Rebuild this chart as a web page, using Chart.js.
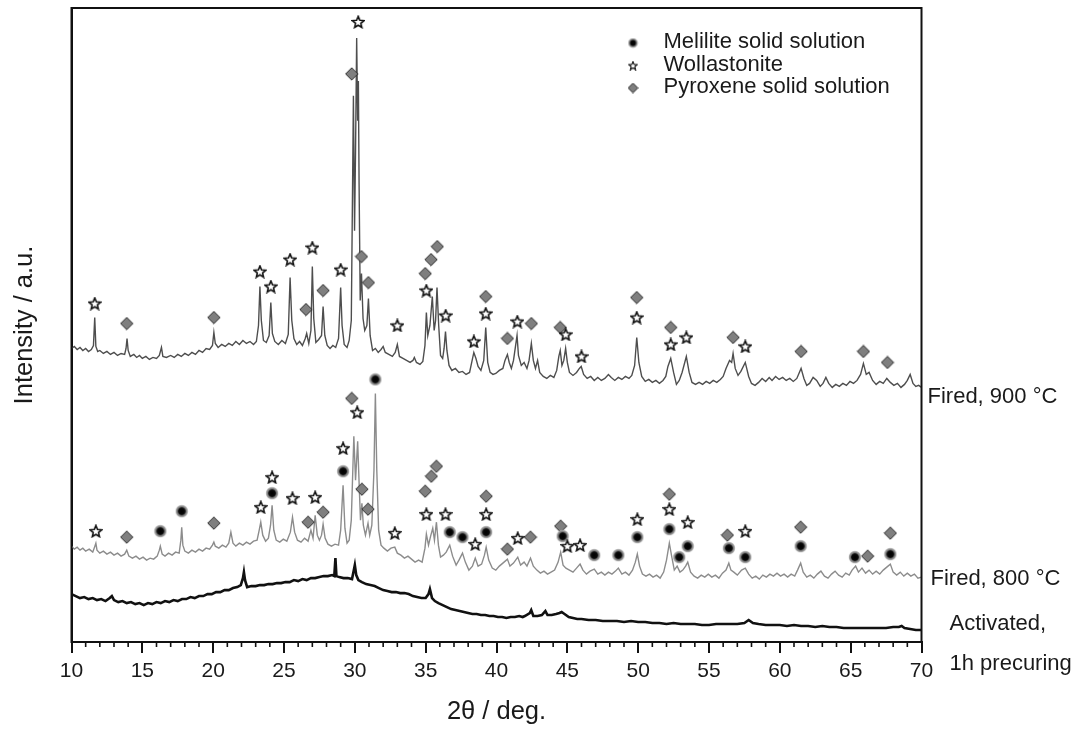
<!DOCTYPE html>
<html lang="en">
<head>
<meta charset="UTF-8" />
<title>XRD patterns - activated and fired samples</title>
<script src="https://cdn.jsdelivr.net/npm/chart.js@4.4.1/dist/chart.umd.min.js"></script>
<style>
  html, body { margin: 0; padding: 0; background: #fff; }
  #wrap { width: 1076px; height: 729px; position: relative; }
</style>
</head>
<body>
<div id="wrap"><canvas id="xrd"></canvas></div>
<script>
// [2theta (deg), intensity (a.u., curves already stacked)]
const fired900 = [
  [10.0,294],[10.2,296],[10.4,293],[10.6,295],[10.8,292],[11.0,294],[11.2,291],[11.4,293],[11.55,297],[11.64,325],
  [11.72,296],[11.85,291],[12.0,292],[12.25,289],[12.5,291],[12.75,288],[13.0,290],[13.25,287],[13.5,289],[13.75,288],
  [13.85,294],[13.92,304],[14.0,292],[14.15,286],[14.4,288],[14.6,285],[14.8,287],[15.0,284],[15.25,286],[15.5,283],
  [15.75,285],[16.0,284],[16.2,287],[16.35,295],[16.45,286],[16.7,285],[17.0,287],[17.25,285],[17.5,288],[17.75,286],
  [18.0,289],[18.25,287],[18.5,290],[18.75,288],[19.0,292],[19.25,290],[19.5,294],[19.75,293],[19.95,297],[20.05,310],
  [20.15,299],[20.35,295],[20.6,298],[20.85,296],[21.1,299],[21.35,297],[21.6,301],[21.85,298],[22.1,302],[22.35,299],
  [22.6,301],[22.85,298],[23.05,301],[23.2,317],[23.3,356],[23.4,322],[23.55,302],[23.75,300],[23.95,307],[24.07,340],
  [24.18,309],[24.35,301],[24.6,298],[24.85,302],[25.1,299],[25.3,308],[25.43,365],[25.55,322],[25.7,304],[25.9,298],
  [26.1,301],[26.3,297],[26.5,304],[26.6,309],[26.75,299],[26.9,312],[27.0,376],[27.1,324],[27.25,300],[27.45,303],
  [27.65,307],[27.76,336],[27.88,307],[28.05,297],[28.25,294],[28.45,297],[28.65,295],[28.85,304],[29.0,355],[29.1,317],
  [29.25,298],[29.45,295],[29.6,302],[29.75,322],[29.9,547],[29.98,412],[30.05,492],[30.13,605],[30.2,522],[30.25,562],
  [30.3,459],[30.38,342],[30.47,369],[30.58,324],[30.7,312],[30.85,317],[30.96,344],[31.08,307],[31.25,292],[31.45,294],
  [31.65,290],[31.85,293],[32.0,296],[32.15,290],[32.4,288],[32.65,286],[32.85,290],[33.0,298],[33.15,286],[33.4,284],
  [33.65,282],[33.9,280],[34.1,282],[34.2,285],[34.35,280],[34.6,278],[34.8,281],[34.95,297],[35.05,330],[35.15,307],
  [35.3,317],[35.47,346],[35.6,312],[35.7,322],[35.8,355],[35.92,317],[36.05,287],[36.2,284],[36.3,294],[36.4,311],
  [36.5,292],[36.65,277],[36.85,272],[37.1,274],[37.35,270],[37.6,271],[37.85,268],[38.1,270],[38.25,280],[38.4,290],
  [38.55,284],[38.7,276],[38.9,272],[39.1,282],[39.24,315],[39.38,280],[39.55,270],[39.75,268],[39.95,269],[40.2,272],
  [40.45,274],[40.6,282],[40.77,288],[40.9,280],[41.05,274],[41.2,282],[41.35,297],[41.45,307],[41.55,287],[41.75,277],
  [41.95,280],[42.15,274],[42.3,282],[42.46,299],[42.6,282],[42.75,274],[42.9,282],[43.05,270],[43.3,266],[43.55,264],
  [43.8,267],[44.05,265],[44.25,272],[44.4,286],[44.5,292],[44.62,277],[44.75,282],[44.88,294],[45.0,280],[45.15,270],
  [45.4,267],[45.65,270],[45.85,274],[45.98,276],[46.15,268],[46.4,264],[46.65,266],[46.9,262],[47.15,265],[47.4,262],
  [47.65,264],[47.9,268],[48.1,265],[48.35,262],[48.6,265],[48.85,263],[49.1,266],[49.35,264],[49.55,267],[49.75,277],
  [49.9,305],[50.05,280],[50.25,266],[50.5,261],[50.75,263],[51.0,260],[51.25,262],[51.5,259],[51.75,262],[51.95,266],
  [52.1,276],[52.3,284],[52.5,270],[52.7,258],[52.9,262],[53.1,270],[53.4,286],[53.6,270],[53.8,260],[54.05,258],
  [54.3,260],[54.55,258],[54.8,261],[55.05,259],[55.3,262],[55.55,260],[55.8,263],[56.0,266],[56.2,274],[56.45,282],
  [56.6,280],[56.7,289],[56.85,274],[57.05,267],[57.25,271],[57.56,280],[57.8,266],[58.0,259],[58.25,257],[58.5,260],
  [58.75,264],[59.0,261],[59.25,265],[59.45,262],[59.7,266],[59.95,263],[60.2,265],[60.45,262],[60.7,264],[60.95,261],
  [61.2,264],[61.5,274],[61.7,264],[61.9,257],[62.1,259],[62.35,265],[62.6,262],[62.85,256],[63.05,259],[63.25,265],
  [63.45,259],[63.7,255],[63.95,258],[64.2,256],[64.45,259],[64.7,257],[64.95,261],[65.2,259],[65.45,262],[65.7,268],
  [65.9,279],[66.1,268],[66.3,270],[66.55,262],[66.8,258],[67.05,261],[67.3,259],[67.55,264],[67.8,260],[68.05,257],
  [68.3,259],[68.55,255],[68.8,258],[69.0,262],[69.2,268],[69.4,259],[69.6,256],[69.8,257],[70.0,255]
];

const fired800 = [
  [10.0,96],[10.2,93],[10.4,95],[10.6,92],[10.8,94],[11.0,91],[11.25,93],[11.5,90],[11.65,96],[11.72,99],
  [11.8,92],[12.0,89],[12.25,91],[12.5,88],[12.75,90],[13.0,87],[13.25,89],[13.5,86],[13.75,88],[13.9,92],
  [14.05,86],[14.3,84],[14.55,86],[14.8,83],[15.05,85],[15.3,82],[15.55,84],[15.8,83],[16.05,86],[16.2,92],
  [16.27,96],[16.4,88],[16.6,86],[16.85,89],[17.1,87],[17.35,90],[17.6,89],[17.72,102],[17.78,115],[17.86,97],
  [18.0,91],[18.25,89],[18.5,92],[18.75,90],[19.0,93],[19.25,91],[19.5,94],[19.75,93],[19.95,97],[20.05,100],
  [20.15,96],[20.4,94],[20.65,97],[20.9,95],[21.1,99],[21.25,110],[21.4,99],[21.6,96],[21.85,99],[22.1,97],
  [22.35,100],[22.6,98],[22.85,101],[23.1,102],[23.25,112],[23.36,120],[23.5,107],[23.7,101],[23.9,104],[24.05,117],
  [24.16,137],[24.28,112],[24.45,102],[24.7,100],[24.95,103],[25.2,101],[25.45,110],[25.6,125],[25.75,110],[25.95,102],
  [26.2,100],[26.45,104],[26.7,101],[26.9,112],[27.05,104],[27.2,127],[27.35,107],[27.5,102],[27.65,107],[27.76,118],
  [27.9,104],[28.1,98],[28.35,96],[28.6,98],[28.85,97],[29.0,112],[29.17,157],[29.3,114],[29.45,99],[29.6,102],
  [29.75,122],[29.93,206],[30.05,162],[30.2,201],[30.32,152],[30.4,122],[30.5,139],[30.6,117],[30.75,107],[30.93,119],
  [31.05,107],[31.2,117],[31.35,172],[31.45,249],[31.55,172],[31.68,112],[31.85,97],[32.05,94],[32.3,91],[32.55,94],
  [32.82,95],[33.0,89],[33.25,87],[33.5,84],[33.75,86],[34.0,83],[34.25,80],[34.5,82],[34.75,80],[34.95,94],
  [35.05,108],[35.2,97],[35.35,106],[35.5,114],[35.62,102],[35.76,120],[35.9,97],[36.05,85],[36.25,87],[36.45,90],
  [36.7,97],[36.9,86],[37.15,77],[37.35,82],[37.6,89],[37.8,80],[38.05,72],[38.3,76],[38.5,84],[38.7,76],
  [38.95,78],[39.15,87],[39.27,95],[39.45,82],[39.7,74],[39.95,72],[40.2,76],[40.45,79],[40.77,83],[40.95,76],
  [41.2,79],[41.5,85],[41.7,77],[41.95,80],[42.15,76],[42.4,84],[42.6,76],[42.85,72],[43.1,69],[43.35,71],
  [43.6,68],[43.85,70],[44.1,72],[44.35,80],[44.53,90],[44.7,77],[44.9,74],[45.15,72],[45.4,70],[45.65,74],
  [45.9,78],[46.1,72],[46.35,68],[46.6,71],[46.9,73],[47.15,68],[47.4,70],[47.65,67],[47.9,70],[48.15,68],
  [48.4,71],[48.6,74],[48.85,68],[49.1,70],[49.35,67],[49.6,72],[49.8,80],[49.94,88],[50.1,76],[50.3,68],
  [50.55,66],[50.8,68],[51.05,65],[51.3,67],[51.55,64],[51.8,70],[52.0,82],[52.2,99],[52.35,87],[52.55,72],
  [52.75,76],[52.95,70],[53.15,72],[53.35,76],[53.5,80],[53.7,70],[53.95,66],[54.2,64],[54.45,67],[54.7,65],
  [54.95,68],[55.2,65],[55.45,67],[55.7,64],[55.95,69],[56.2,72],[56.4,79],[56.55,72],[56.75,70],[57.0,67],
  [57.3,72],[57.56,74],[57.8,68],[58.05,64],[58.3,66],[58.55,63],[58.8,67],[59.05,65],[59.3,68],[59.55,66],
  [59.8,69],[60.05,66],[60.3,68],[60.55,65],[60.8,68],[61.05,66],[61.25,72],[61.47,79],[61.65,70],[61.9,65],
  [62.15,67],[62.4,64],[62.65,68],[62.9,71],[63.15,66],[63.4,64],[63.65,68],[63.9,71],[64.15,67],[64.4,65],
  [64.65,69],[64.9,67],[65.1,72],[65.35,76],[65.55,70],[65.8,74],[66.05,69],[66.3,72],[66.55,68],[66.8,71],
  [67.05,68],[67.3,72],[67.55,75],[67.8,78],[68.0,70],[68.25,67],[68.5,70],[68.75,66],[69.0,69],[69.25,66],
  [69.5,68],[69.75,64],[70.0,65]
];

const activated = [
  [10.0,48],[10.3,46],[10.6,44],[10.9,45],[11.2,43],[11.5,44],[11.8,42],[12.1,43],[12.4,41],[12.7,44],
  [12.85,46],[13.0,42],[13.3,40],[13.6,41],[13.9,39],[14.2,40],[14.5,38],[14.8,39],[15.1,37],[15.4,39],
  [15.7,38],[16.0,40],[16.3,39],[16.6,41],[16.9,40],[17.2,42],[17.5,41],[17.8,43],[18.1,43],[18.4,45],
  [18.7,44],[19.0,46],[19.3,46],[19.6,48],[19.9,48],[20.2,50],[20.5,50],[20.8,52],[21.1,52],[21.4,54],
  [21.7,55],[21.95,57],[22.1,64],[22.17,70],[22.25,62],[22.4,55],[22.7,56],[23.0,56],[23.3,57],[23.6,57],
  [23.9,58],[24.2,58],[24.5,59],[24.8,59],[25.1,60],[25.4,60],[25.7,62],[26.0,61],[26.3,63],[26.6,62],
  [26.9,64],[27.2,64],[27.5,65],[27.8,66],[28.1,66],[28.4,67],[28.55,66],[28.63,84],[28.7,66],[28.9,65],
  [29.2,64],[29.5,64],[29.8,63],[29.93,72],[30.0,77],[30.1,67],[30.25,62],[30.5,60],[30.8,58],[31.1,57],
  [31.4,56],[31.7,54],[32.0,52],[32.3,51],[32.6,50],[32.9,50],[33.2,49],[33.5,49],[33.8,48],[34.1,46],
  [34.4,45],[34.7,44],[35.0,44],[35.2,48],[35.3,53],[35.45,44],[35.65,41],[35.9,39],[36.2,37],[36.5,35],
  [36.8,33],[37.1,32],[37.4,31],[37.7,30],[38.0,29],[38.3,28],[38.6,28],[38.9,27],[39.2,27],[39.5,26],
  [39.8,26],[40.1,25],[40.4,25],[40.7,24],[41.0,25],[41.3,25],[41.6,26],[41.85,25],[42.0,26],[42.35,29],
  [42.45,32],[42.6,26],[42.9,26],[43.2,27],[43.45,31],[43.6,27],[43.9,27],[44.2,28],[44.45,29],[44.6,30],
  [44.8,28],[45.1,25],[45.4,24],[45.7,23],[46.0,23],[46.5,22],[47.0,22],[47.5,21],[48.0,21],[48.5,21],
  [49.0,20],[49.5,21],[50.0,20],[50.5,20],[51.0,19],[51.5,19],[52.0,18],[52.5,19],[53.0,18],[53.5,18],
  [54.0,18],[54.5,17],[55.0,17],[55.5,18],[56.0,18],[56.5,18],[57.0,18],[57.5,19],[57.8,22],[58.1,19],
  [58.5,18],[59.0,17],[59.5,17],[60.0,17],[60.5,16],[61.0,17],[61.5,16],[62.0,16],[62.5,15],[63.0,16],
  [63.5,15],[64.0,15],[64.5,14],[65.0,14],[65.5,14],[66.0,14],[66.5,14],[67.0,14],[67.5,14],[68.0,15],
  [68.4,15],[68.6,16],[68.8,14],[69.2,13],[69.6,12],[70.0,12]
];

// phase markers [2theta, intensity]
const star900 = [
  [11.64,339],[23.3,371],[24.07,356],[25.43,383],[27.0,395],[29.0,373],[30.24,621],[33.0,317],[35.05,352],[36.41,327],
  [38.4,301],[39.24,329],[41.47,321],[44.88,308],[46.0,286],[49.9,325],[52.3,298],[53.4,305],[57.56,296]
];
const diamond900 = [
  [13.9,319],[20.05,325],[26.55,333],[27.76,352],[29.78,569],[30.47,386],[30.96,360],[34.97,369],[35.38,383],[35.82,396],
  [39.24,346],[40.77,304],[42.46,319],[44.5,315],[49.9,345],[52.3,315],[56.7,305],[61.5,291],[65.9,291],[67.6,280]
];
const star800 = [
  [11.72,111],[23.36,135],[24.16,165],[25.6,144],[27.2,145],[29.17,194],[30.17,230],[32.82,109],[35.05,128],[36.4,128],
  [38.5,98],[39.27,128],[41.5,104],[45.0,96],[45.9,97],[49.94,123],[52.2,133],[53.5,120],[57.56,111]
];
const circle800 = [
  [16.27,111],[17.78,131],[24.16,149],[29.17,171],[31.45,263],[36.7,110],[37.6,105],[39.27,110],[44.67,106],[46.9,87],
  [48.6,87],[49.94,105],[52.2,113],[52.9,85],[53.5,96],[56.4,94],[57.56,85],[61.47,96],[65.3,85],[67.8,88]
];
const diamond800 = [
  [13.9,105],[20.05,119],[26.7,120],[27.76,130],[29.78,244],[30.5,153],[30.93,133],[34.97,151],[35.4,166],[35.76,176],
  [39.27,146],[40.77,93],[42.4,105],[44.53,116],[52.2,148],[56.3,107],[61.47,115],[66.2,86],[67.8,109]
];

const phaseNames = ['Melilite solid solution', 'Wollastonite', 'Pyroxene solid solution'];
const sampleNames = ['Fired, 900 °C', 'Fired, 800 °C', 'Activated,', '1h precuring'];

const pts = arr => arr.map(([x, y]) => ({ x, y }));

// marker glyphs
function makeMarker(kind, size) {
  const c = document.createElement('canvas');
  c.width = c.height = size;
  const g = c.getContext('2d');
  const m = size / 2;
  if (kind === 'star') {
    const R = size * 0.44, r = R * 0.45;
    g.beginPath();
    for (let i = 0; i < 10; i++) {
      const a = -Math.PI / 2 + i * Math.PI / 5;
      const rad = i % 2 ? r : R;
      g.lineTo(m + rad * Math.cos(a), m + 0.5 + rad * Math.sin(a));
    }
    g.closePath();
    g.fillStyle = '#fff';
    g.fill();
    g.lineWidth = size / 9;
    g.strokeStyle = '#111';
    g.stroke();
  } else if (kind === 'diamond') {
    const h = size * 0.44;
    g.beginPath();
    g.moveTo(m, m - h); g.lineTo(m + h, m); g.lineTo(m, m + h); g.lineTo(m - h, m);
    g.closePath();
    g.fillStyle = '#7f7f7f';
    g.fill();
    g.lineWidth = 1;
    g.strokeStyle = '#2a2a2a';
    g.stroke();
  } else {
    const grad = g.createRadialGradient(m, m, 0, m, m, size * 0.48);
    grad.addColorStop(0, '#000');
    grad.addColorStop(0.5, '#0a0a0a');
    grad.addColorStop(0.62, '#6e6e6e');
    grad.addColorStop(0.85, '#a8a8a8');
    grad.addColorStop(1, 'rgba(200,200,200,0)');
    g.fillStyle = grad;
    g.beginPath();
    g.arc(m, m, size * 0.48, 0, Math.PI * 2);
    g.fill();
  }
  return c;
}

const starImg = makeMarker('star', 14);
const diamondImg = makeMarker('diamond', 14);
const circleImg = makeMarker('circle', 14);
const legendImgs = [makeMarker('circle', 11), makeMarker('star', 10), makeMarker('diamond', 11)];

const FONT = '"Liberation Sans", Arial, sans-serif';

// box, minor ticks, legend, sample labels
const extras = {
  id: 'extras',
  afterDraw(chart) {
    const { ctx, chartArea: a, scales: { x, y } } = chart;
    ctx.save();
    ctx.strokeStyle = '#111';
    ctx.lineWidth = 2;
    ctx.strokeRect(a.left, a.top, a.right - a.left, a.bottom - a.top);
    ctx.lineWidth = 1.6;
    for (let v = x.min + 1; v < x.max; v++) {
      if (v % 5 === 0) continue;
      const px = x.getPixelForValue(v);
      ctx.beginPath();
      ctx.moveTo(px, a.bottom);
      ctx.lineTo(px, a.bottom + 5);
      ctx.stroke();
    }

    ctx.fillStyle = '#1a1a1a';
    ctx.font = '22px ' + FONT;
    ctx.textBaseline = 'middle';
    ctx.textAlign = 'left';
    phaseNames.forEach((name, i) => {
      const ly = a.top + 35 + i * 22.5;
      const img = legendImgs[i];
      ctx.drawImage(img, a.right - 288.5 - img.width / 2, ly - img.height / 2);
      ctx.fillText(name, a.right - 258, ly - 1);
    });

    const side = [[0, 245, 6], [1, 63, 9], [2, 18, 28], [3, -22, 28]];
    side.forEach(([i, level, dx]) => {
      ctx.fillText(sampleNames[i], a.right + dx, y.getPixelForValue(level));
    });
    ctx.restore();
  }
};

const markerSet = (data, img) => ({
  type: 'scatter',
  data: pts(data),
  pointStyle: img,
  pointRadius: 7,
  showLine: false,
  order: 0
});

const lineSet = (data, color, width) => ({
  type: 'line',
  data: pts(data),
  borderColor: color,
  borderWidth: width,
  pointRadius: 0,
  tension: 0,
  fill: false,
  order: 1
});

new Chart(document.getElementById('xrd'), {
  data: {
    datasets: [
      markerSet(star900, starImg),
      markerSet(diamond900, diamondImg),
      markerSet(star800, starImg),
      markerSet(circle800, circleImg),
      markerSet(diamond800, diamondImg),
      lineSet(fired900, '#4e4e4e', 1.4),
      lineSet(fired800, '#8c8c8c', 1.4),
      lineSet(activated, '#111111', 2.6)
    ]
  },
  options: {
    responsive: true,
    maintainAspectRatio: false,
    animation: false,
    events: [],
    layout: { padding: { top: 7, right: 154.5, bottom: 0, left: 0 } },
    plugins: { legend: { display: false }, tooltip: { enabled: false } },
    scales: {
      x: {
        type: 'linear',
        min: 10,
        max: 70,
        ticks: { stepSize: 5, color: '#1a1a1a', padding: 6, font: { family: FONT, size: 21 } },
        grid: { display: true, drawOnChartArea: false, drawTicks: true, tickLength: 11, color: '#111', lineWidth: 2 },
        border: { display: true, color: '#111', width: 2 },
        title: { display: true, text: '2θ / deg.', color: '#1a1a1a', font: { family: FONT, size: 25.5 }, padding: { top: 6.5, bottom: 1.7 } }
      },
      y: {
        type: 'linear',
        min: 0,
        max: 635,
        ticks: { display: false },
        grid: { display: false, drawTicks: false },
        border: { display: true, color: '#111', width: 2 },
        title: { display: true, text: 'Intensity / a.u.', color: '#1a1a1a', font: { family: FONT, size: 25.5 }, padding: { top: 9.7, bottom: 31.2 } }
      }
    }
  },
  plugins: [extras]
});
</script>
</body>
</html>
